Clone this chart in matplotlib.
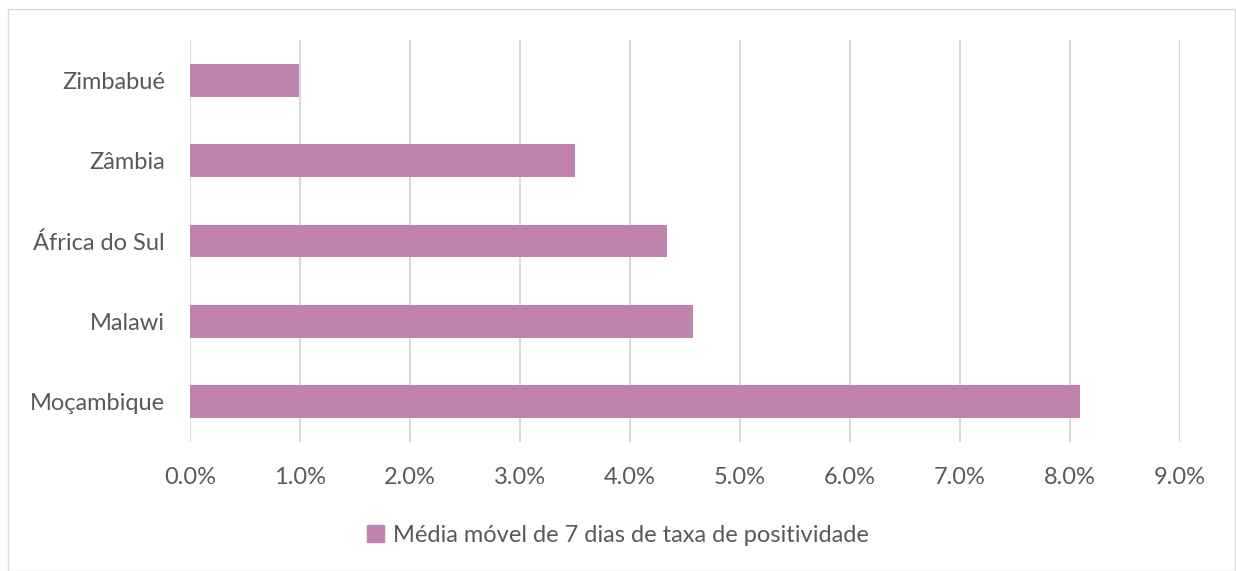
import matplotlib.pyplot as plt
from matplotlib.patches import Rectangle, Patch
from matplotlib.ticker import FuncFormatter

countries = ['Moçambique', 'Malawi', 'África do Sul', 'Zâmbia', 'Zimbabué']
positivity = [8.09, 4.57, 4.34, 3.50, 0.99]
series_label = 'Média móvel de 7 dias de taxa de positividade'
xticks = [0, 1, 2, 3, 4, 5, 6, 7, 8, 9]

bar_color = '#C084AC'
text_color = '#595959'

plt.rcParams['font.family'] = ['Lato', 'DejaVu Sans']

fig = plt.figure(figsize=(12.36, 5.71), dpi=100)
ax = fig.add_axes([190 / 1236, 1 - 442 / 571, 990 / 1236, 402 / 571])

ax.barh(range(len(countries)), positivity, height=0.41, color=bar_color, zorder=3)

ax.set_xlim(0, 9)
ax.set_ylim(-0.5, len(countries) - 0.5)
ax.set_xticks(xticks)
ax.xaxis.set_major_formatter(FuncFormatter(lambda v, p: f'{v:.1f}%'))
ax.set_yticks(range(len(countries)))
ax.set_yticklabels(countries)

ax.grid(axis='x', color='#D9D9D9', linewidth=1.5, zorder=0)
for s in ax.spines.values():
    s.set_visible(False)
ax.tick_params(length=0, labelsize=17, labelcolor=text_color)
ax.tick_params(axis='x', pad=18)
ax.tick_params(axis='y', pad=18)

handle = Patch(color=bar_color, label=series_label)
fig.legend(handles=[handle], loc='center', bbox_to_anchor=(0.5, 1 - 535 / 571),
           frameon=False, fontsize=17, labelcolor=text_color,
           handlelength=0.7, handleheight=0.7, handletextpad=0.4)

fig.patches.append(Rectangle((8 / 1236, 0), 1227 / 1236, 1 - 9 / 571,
                             transform=fig.transFigure, fill=False,
                             edgecolor='#D9D9D9', linewidth=1))

fig.savefig('out.png', dpi=100)
